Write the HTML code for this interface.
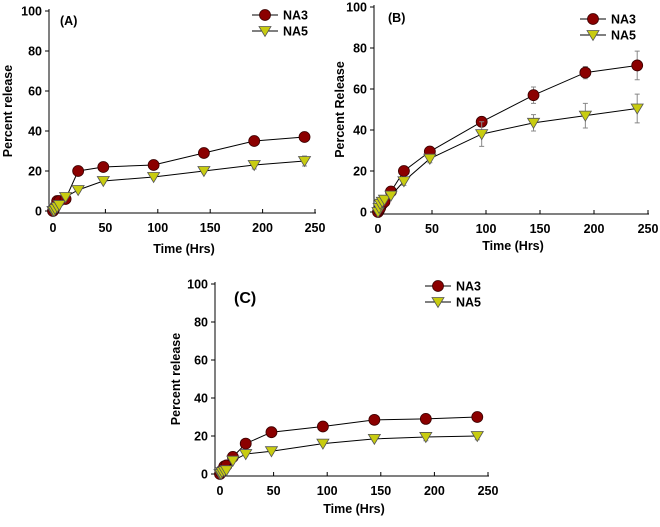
<!DOCTYPE html>
<html><head><meta charset="utf-8"><style>
body{margin:0;background:#fff;}
svg text{font-family:"Liberation Sans",Arial,sans-serif;font-weight:bold;fill:#000;}
</style></head><body>
<svg id="fig" width="660" height="522" viewBox="0 0 660 522" xmlns="http://www.w3.org/2000/svg"></svg>
<script>
const timePoints=[0,1,2,4,6,12,24,48,96,144,192,240];
const aNA3=[0,1,2,5,5,6,20,22,23,29,35,37];
const aNA5=[0,0,1,2,3,7,10.5,15,17,20,23,25];
const aNA3Err=[0,0,0,0,0,0,1,1,1,1,1.5,2.5];
const aNA5Err=[0,0,0,0,0,0,1,1,1,1,2,2.5];
const bNA3=[0,1,2,4,5,10,20,29.5,44,57,68,71.5];
const bNA5=[0,2,4,5,6,8,15,26,38,43.5,47,50.5];
const bNA3Err=[0,0,0,0,0,0,1,1,2,4,3,7];
const bNA5Err=[0,0,0,0,0,0,2,2,6,4,6,7];
const cNA3=[0,1,2,4,4.5,9,16,22,25,28.5,29,30];
const cNA5=[0,0,1,1.5,2,7,10.5,12,16,18.5,19.5,20];
const cNA3Err=[0,0,0,0,0,0,1,1,1,1,1,2];
const cNA5Err=[0,0,0,0,0,0,1,1,1,1,2,2];
const xTicks=[0,50,100,150,200,250];
const yTicks=[0,20,40,60,80,100];

const NS="http://www.w3.org/2000/svg";
const svg=document.getElementById('fig');
function el(tag,attrs,parent){const e=document.createElementNS(NS,tag);for(const k in attrs)e.setAttribute(k,attrs[k]);(parent||svg).appendChild(e);return e;}

function panel(id,g,s3,s5,e3,e5,label,ytitle,showX,lx,ly){
  const grp=el('g',{});
  
  
  const X=v=>g.x0+(v/250)*(g.x1-g.x0);
  const Y=v=>g.y0-(v/100)*(g.y0-g.y1);
  const ax=el('path',{d:`M${g.ax},${g.y1-2}V${g.y0+2}H${g.x1+1}`,stroke:'#000','stroke-width':1,fill:'none'},grp);
  
  
  yTicks.forEach(t=>{
    el('line',{x1:g.ax-4,x2:g.ax,y1:Y(t),y2:Y(t),stroke:'#000'},grp);
    const tx=el('text',{x:g.ax-7,y:Y(t)+4.5,'text-anchor':'end','font-size':12.5},grp);tx.textContent=t;
    
    
  });
  xTicks.forEach(t=>{
    el('line',{x1:X(t),x2:X(t),y1:g.y0+2,y2:g.y0-2,stroke:'#000'},grp);
    const tx=el('text',{x:X(t),y:g.y0+21,'text-anchor':'middle','font-size':12.5},grp);tx.textContent=t;
    
    
  });
  const yt=el('text',{x:0,y:0,'text-anchor':'middle','font-size':12.5,transform:`translate(${g.ytx},${(g.y0+g.y1)/2}) rotate(-90)`},grp);
  yt.textContent=ytitle;
  
  
  if(showX){const xt=el('text',{x:(g.x0+g.x1)/2,y:g.xty,'text-anchor':'middle','font-size':12.5},grp);xt.textContent='Time (Hrs)';
    
    }
  const lb=el('text',{x:g.lbx,y:g.lby,'font-size':label=='(C)'?16:12.5},grp);lb.textContent=label;
  
  
  [[s3,e3,'NA3'],[s5,e5,'NA5']].forEach(([s,e,name])=>{
    const line=el('polyline',{points:timePoints.map((t,i)=>X(t)+','+Y(s[i])).join(' '),fill:'none',stroke:'#000','stroke-width':1},grp);
    
    
    timePoints.forEach((t,i)=>{
      if(e[i]>0){const eb=el('path',{d:`M${X(t)},${Y(s[i]-e[i])}V${Y(s[i]+e[i])}M${X(t)-2.5},${Y(s[i]-e[i])}h5M${X(t)-2.5},${Y(s[i]+e[i])}h5`,stroke:'#888','stroke-width':1,fill:'none'},grp);
        
        }
      const m=marker(name,X(t),Y(s[i]),grp);
      
      
    });
  });
  [['NA3',0],['NA5',16]].forEach(([name,dy])=>{
    const lg=el('g',{},grp);
    
    
    el('line',{x1:lx-13,x2:lx+13,y1:ly+dy,y2:ly+dy,stroke:'#000'},lg);
    marker(name,lx,ly+dy,lg);
    const tx=el('text',{x:lx+18,y:ly+dy+4.5,'font-size':12.5},lg);tx.textContent=name;
  });
}
function marker(name,x,y,p){
  if(name=='NA3')return el('circle',{cx:x,cy:y,r:5.5,fill:'#8b0000',stroke:'#3a0000','stroke-width':0.8},p);
  return el('path',{d:`M${x-6},${y-4.5}L${x+6},${y-4.5}L${x},${y+5.5}Z`,fill:'#c8cc10',stroke:'#555','stroke-width':0.8},p);
}
panel('a',{x0:53,x1:315,y0:211,y1:11,ax:49,ytx:12,xty:253,lbx:60,lby:25},aNA3,aNA5,aNA3Err,aNA5Err,'(A)','Percent release',true,265,15);
panel('b',{x0:378,x1:648,y0:212,y1:7,ax:374,ytx:344,xty:250,lbx:388,lby:22},bNA3,bNA5,bNA3Err,bNA5Err,'(B)','Percent Release',true,593,19);
panel('c',{x0:220,x1:488,y0:474,y1:284,ax:215,ytx:180,xty:513,lbx:234,lby:303},cNA3,cNA5,cNA3Err,cNA5Err,'(C)','Percent release',true,438,286);
</script>
</body></html>
